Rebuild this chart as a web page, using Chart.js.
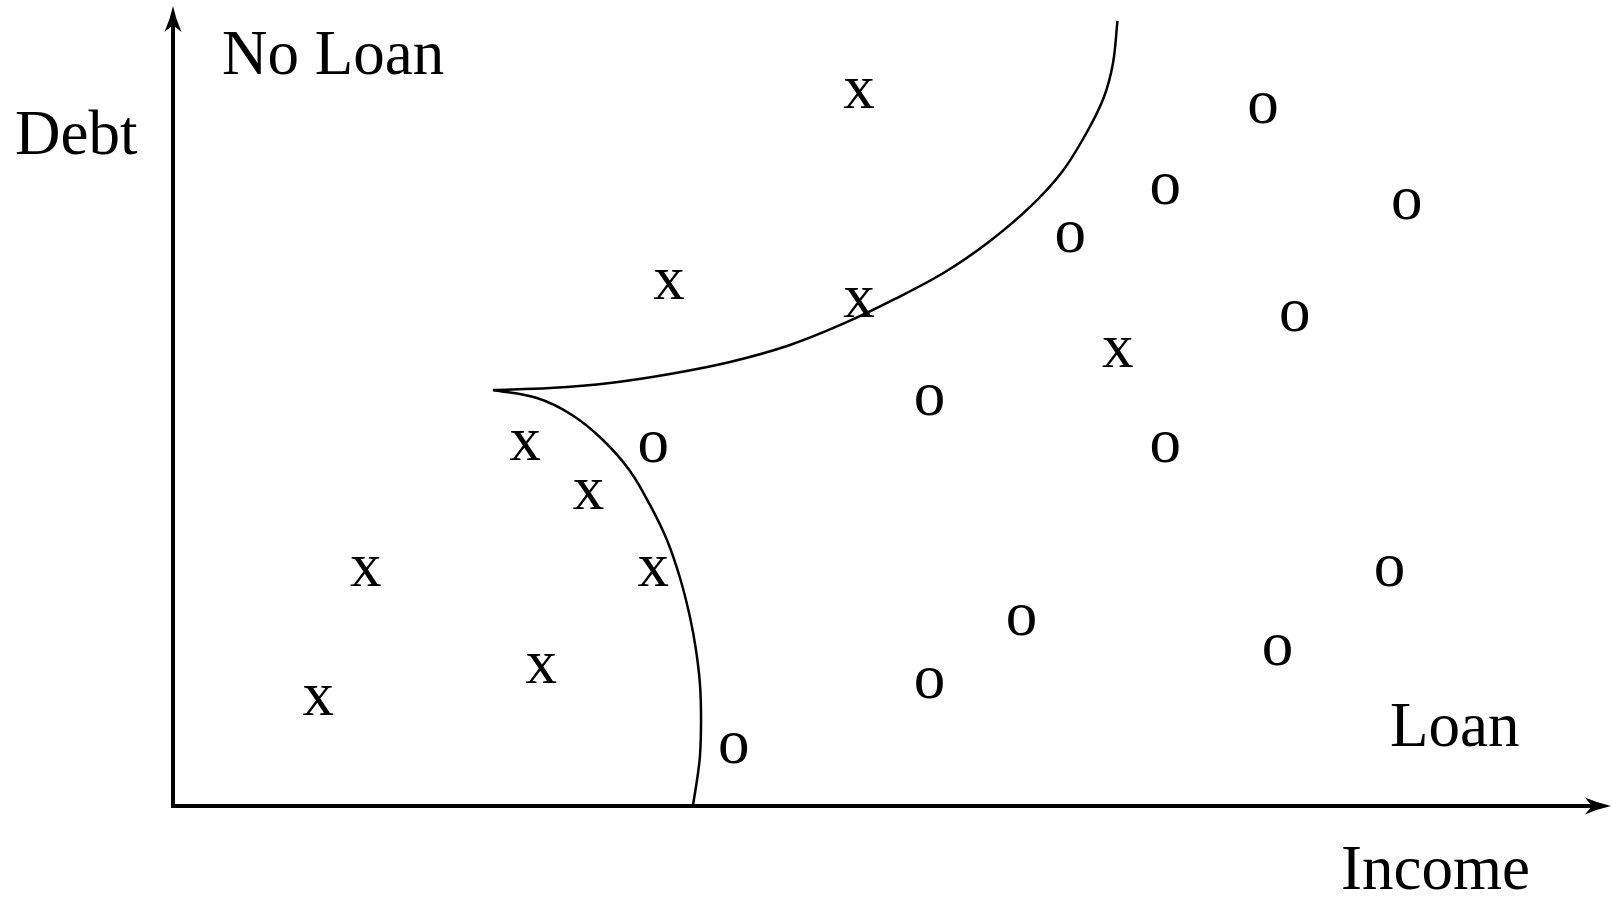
<!DOCTYPE html>
<html>
<head>
<meta charset="utf-8">
<script src="https://cdn.jsdelivr.net/npm/chart.js@4/dist/chart.umd.min.js"></script>
<style>
  html, body { margin: 0; padding: 0; background: #ffffff; overflow: hidden; }
  #wrap { width: 1612px; height: 898px; }
</style>
</head>
<body>
<div id="wrap"><canvas id="c" width="1612" height="898"></canvas></div>
<script>
// ---- Data (Income on x, Debt on y, arbitrary units 0-100) ----
const xIncome = [47.7, 34.5, 47.7, 65.7, 24.5, 28.9, 13.4, 33.4, 25.6, 10.1];
const xDebt   = [89.1, 65.2, 63.0, 56.7, 45.1, 39.0, 29.3, 29.3, 17.2, 13.2];

const oIncome = [75.8, 69.0, 85.8, 62.4, 78.0, 52.6, 33.4, 69.0, 84.6, 59.0, 76.8, 52.6, 39.0];
const oDebt   = [87.2, 77.1, 75.2, 71.1, 61.2, 50.7, 44.8, 44.8, 29.3, 23.2, 19.4, 15.3, 7.2];

// decision boundary curves
const upperIncome = [22.25, 26.22, 30.39, 34.56, 38.73, 42.91, 46.73, 50.21, 53.69, 56.82, 59.60, 61.82, 63.56, 64.74, 65.37, 65.68];
const upperDebt   = [52.0, 52.25, 52.88, 54.0, 55.5, 57.63, 60.38, 63.38, 66.75, 70.63, 74.88, 79.25, 84.25, 88.63, 92.88, 98.13];
const lowerIncome = [22.25, 25.31, 27.75, 29.90, 31.78, 33.17, 34.35, 35.26, 35.95, 36.37, 36.65, 36.72, 36.65, 36.44, 36.16];
const lowerDebt   = [52.0, 51.0, 48.88, 45.75, 41.88, 37.63, 33.25, 28.5, 23.63, 19.5, 15.13, 10.75, 6.38, 3.25, 0.13];

const xLabel = 'Income';
const yLabel = 'Debt';
const regionNoLoan = 'No Loan';
const regionLoan = 'Loan';

const zip = (a, b) => a.map((v, i) => ({ x: v, y: b[i] }));

const FONT = '63px "Liberation Serif", "Times New Roman", serif';

// draws glyph markers, axes with arrowheads and labels
const diagramPlugin = {
  id: 'diagram',
  afterDatasetsDraw(chart) {
    const ctx = chart.ctx;
    const xs = chart.scales.x, ys = chart.scales.y;
    ctx.save();
    ctx.fillStyle = '#000';
    ctx.font = FONT;
    ctx.textAlign = 'center';
    ctx.textBaseline = 'alphabetic';
    chart.data.datasets.forEach((ds, di) => {
      if (!ds.glyph) return;
      const meta = chart.getDatasetMeta(di);
      const m = ctx.measureText(ds.glyph);
      const off = (m.actualBoundingBoxAscent - m.actualBoundingBoxDescent) / 2;
      meta.data.forEach(pt => {
        ctx.fillText(ds.glyph, pt.x, pt.y + off);
      });
    });

    // axes
    const x0 = xs.getPixelForValue(0), y0 = ys.getPixelForValue(0);
    const xEnd = xs.getPixelForValue(100), yEnd = ys.getPixelForValue(100);
    ctx.strokeStyle = '#000';
    ctx.lineWidth = 4;
    ctx.lineCap = 'butt';
    ctx.beginPath();
    ctx.moveTo(x0 - 2, y0);
    ctx.lineTo(xEnd - 14, y0);
    ctx.moveTo(x0, y0 + 2);
    ctx.lineTo(x0, yEnd + 14);
    ctx.stroke();
    // arrowheads
    const L = 26, W = 8.5, N = 19, C = 2.8;
    ctx.beginPath();
    ctx.moveTo(xEnd, y0);
    ctx.quadraticCurveTo(xEnd - L * 0.5, y0 + C, xEnd - L, y0 + W);
    ctx.quadraticCurveTo(xEnd - L * 0.8, y0 + 2, xEnd - N, y0);
    ctx.quadraticCurveTo(xEnd - L * 0.8, y0 - 2, xEnd - L, y0 - W);
    ctx.quadraticCurveTo(xEnd - L * 0.5, y0 - C, xEnd, y0);
    ctx.closePath();
    ctx.fill();
    ctx.beginPath();
    ctx.moveTo(x0, yEnd);
    ctx.quadraticCurveTo(x0 + C, yEnd + L * 0.5, x0 + W, yEnd + L);
    ctx.quadraticCurveTo(x0 + 2, yEnd + L * 0.8, x0, yEnd + N);
    ctx.quadraticCurveTo(x0 - 2, yEnd + L * 0.8, x0 - W, yEnd + L);
    ctx.quadraticCurveTo(x0 - C, yEnd + L * 0.5, x0, yEnd);
    ctx.closePath();
    ctx.fill();

    // labels
    ctx.textAlign = 'left';
    ctx.fillText(regionNoLoan, x0 + 49, 74);
    ctx.fillText(regionLoan, 1390, 746);
    ctx.fillText(xLabel, 1341, 889);
    ctx.fillText(yLabel, 15, 154);
    ctx.restore();
  }
};

const lineStyle = {
  showLine: true,
  borderColor: '#000',
  borderWidth: 2.5,
  pointRadius: 0,
  pointHoverRadius: 0,
  tension: 0.35,
  fill: false
};

new Chart(document.getElementById('c'), {
  type: 'scatter',
  data: {
    datasets: [
      Object.assign({ label: 'upper boundary', data: zip(upperIncome, upperDebt) }, lineStyle),
      Object.assign({ label: 'lower boundary', data: zip(lowerIncome, lowerDebt) }, lineStyle),
      { label: 'x', glyph: 'x', data: zip(xIncome, xDebt), pointRadius: 0, pointHoverRadius: 0 },
      { label: 'o', glyph: 'o', data: zip(oIncome, oDebt), pointRadius: 0, pointHoverRadius: 0 }
    ]
  },
  options: {
    responsive: false,
    devicePixelRatio: 1,
    animation: false,
    events: [],
    layout: { padding: { left: 173, right: 1, top: 6, bottom: 92 } },
    clip: false,
    scales: {
      x: { type: 'linear', min: 0, max: 100, display: false },
      y: { type: 'linear', min: 0, max: 100, display: false }
    },
    plugins: {
      legend: { display: false },
      tooltip: { enabled: false },
      title: { display: false }
    }
  },
  plugins: [diagramPlugin]
});
</script>
</body>
</html>
